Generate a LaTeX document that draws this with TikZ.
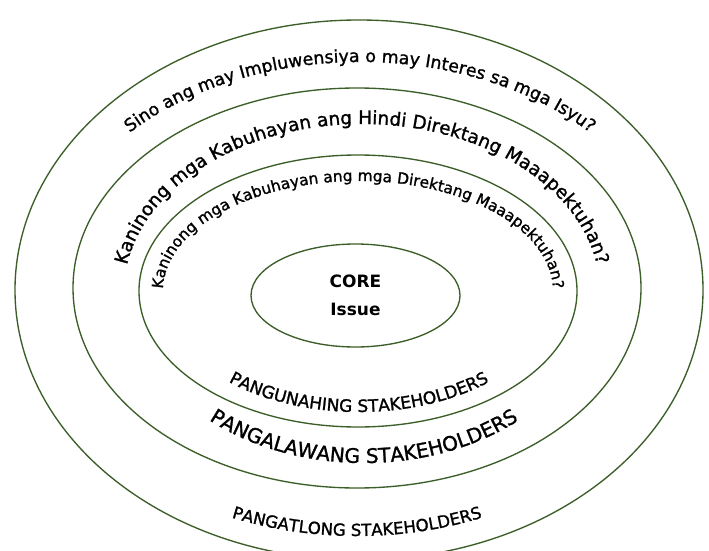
\documentclass[tikz,border=0pt]{standalone}
\usepackage{fontspec}
\setmainfont{DejaVu Sans}
\newfontfamily\comic{DejaVu Sans}[FakeBold=1.3]
\usetikzlibrary{decorations.text,shapes.geometric}
\definecolor{ringgreen}{RGB}{60,94,40}
\newcommand\tfA{\comic\fontsize{17.4}{20}\selectfont}
\newcommand\tfB{\comic\fontsize{18.5}{22}\selectfont}
\newcommand\tfC{\comic\fontsize{15.4}{18}\selectfont}
\newcommand\tfD{\comic\fontsize{17}{19}\selectfont}
\newcommand\tfE{\comic\fontsize{20}{22}\selectfont}
\newcommand\tfF{\comic\fontsize{16.6}{19}\selectfont}
\begin{document}
\begin{tikzpicture}[x=1pt,y=1pt,
  ring/.style={draw=ringgreen, line width=1.35pt},
  curvetext/.style={decorate, decoration={text along path, text align=center, text={#1}}}]
\useasboundingbox (0,0) rectangle (709,550);
\fill[white] (0,0) rectangle (709,550);
\begin{scope}
\clip (0,0) rectangle (709,550);
\draw[ring] (359,260) ellipse [x radius=344, y radius=270];
\draw[ring] (357,262) ellipse [x radius=284, y radius=200];
\draw[ring] (358,259) ellipse [x radius=219, y radius=136];
\end{scope}
\node[ring, ellipse, minimum width=209, minimum height=103, align=center,
  font=\bfseries\fontsize{17}{28}\selectfont] (core) at (355.5,254.5) {CORE\\Issue};
% top texts
\path[curvetext={|\tfA|Sino ang may Impluwensiya o may Interes sa mga Isyu?}]
  (360,260) ++(150:318 and 228) arc[start angle=150, end angle=30, x radius=318, y radius=228];
\path[curvetext={|\tfB|Kaninong mga Kabuhayan ang Hindi Direktang Maaapektuhan?}]
  (362,258) ++(185:238 and 168) arc[start angle=185, end angle=-5, x radius=238, y radius=168];
\path[curvetext={|\tfC|Kaninong mga Kabuhayan ang mga Direktang Maaapektuhan?}]
  (358,259) ++(195:195 and 110) arc[start angle=195, end angle=-15, x radius=195, y radius=110];
% bottom texts
\path[curvetext={|\tfD|PANGUNAHING STAKEHOLDERS}]
  (359,260) ++(215:198 and 122) arc[start angle=215, end angle=325, x radius=198, y radius=122];
\path[curvetext={|\tfE|PANGALAWANG STAKEHOLDERS}]
  (364,260) ++(220:235 and 173) arc[start angle=220, end angle=320, x radius=235, y radius=173];
\path[curvetext={|\tfF|PANGATLONG STAKEHOLDERS}]
  (357,260) ++(235:330 and 246) arc[start angle=235, end angle=305, x radius=330, y radius=246];
\end{tikzpicture}
\end{document}
